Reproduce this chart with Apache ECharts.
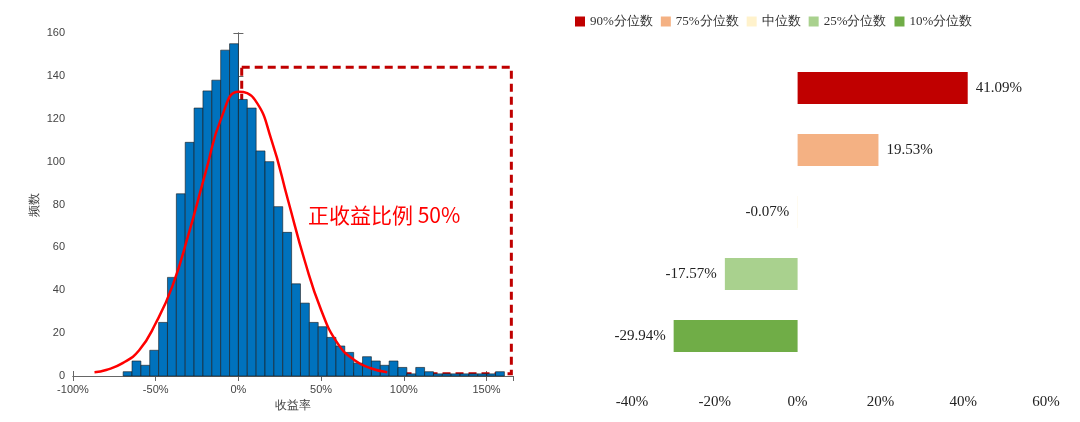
<!DOCTYPE html><html><head><meta charset="utf-8"><script src="https://cdn.jsdelivr.net/npm/echarts@6/dist/echarts.min.js"></script></head><body style="margin:0"><div id="c" style="width:1080px;height:422px"></div><script>
const binWidth = 5.36;
const negCounts = [2,7,5,12,25,46,85,109,125,133,138,152,155]; // bins ending at 0
const posCounts = [129,125,105,100,79,67,43,34,25,23,18,14,11,6,9,7,5,7,4,1,4,2,1,1,1,1,1,1,1,2];
const curveX = [-87,-80,-70,-60,-50,-40,-30,-20,-10,0,10,20,30,40,50,60,70,80,90];
const curveY = [1.7,2.8,6,12,24.6,41.7,66.5,94.5,121,132.6,128.8,110,82,54,30.8,15.2,7.5,3.6,1.7];
const xTicks = [-100,-50,0,50,100,150];
const quantNames = ['90%分位数','75%分位数','中位数','25%分位数','10%分位数'];
const quantValues = [41.09,19.53,-0.07,-17.57,-29.94];
const quantColors = ['#C00000','#F4B183','#FFF2CC','#A9D18E','#70AD47'];

const bins = [];
negCounts.forEach((v,i)=>bins.push([-(negCounts.length-i)*binWidth, -(negCounts.length-i-1)*binWidth, v]));
posCounts.forEach((v,i)=>bins.push([i*binWidth,(i+1)*binWidth,v]));

const chart = echarts.init(document.getElementById('c'));
const ax = {color:'#444',fontSize:11,fontFamily:'Liberation Sans'};
const serif = '"Liberation Serif","DejaVu Serif",serif';
chart.setOption({
  animation:false,
  grid:[{left:73,right:567,top:33,bottom:46},{left:632,right:34,top:57,bottom:55}],
  legend:{top:10,left:570,itemWidth:10,itemHeight:10,itemGap:8,icon:'rect',textStyle:{fontSize:13,fontFamily:serif,color:'#333'},data:quantNames},
  xAxis:[
    {gridIndex:0,type:'value',min:-100,max:166,interval:50,axisLine:{lineStyle:{color:'#666'}},axisTick:{inside:true,lineStyle:{color:'#666'}},splitLine:{show:false},
     axisLabel:Object.assign({formatter:v=>xTicks.includes(v)?v+'%':'',showMaxLabel:false},ax),name:'收益率',nameLocation:'middle',nameGap:22,nameTextStyle:{fontSize:12,color:'#444'}},
    {gridIndex:0,type:'value',position:'top',min:-100,max:166,interval:50,axisLine:{lineStyle:{color:'#666'}},axisTick:{inside:true,lineStyle:{color:'#666'}},axisLabel:{show:false},splitLine:{show:false}},
    {gridIndex:1,type:'value',min:-40,max:60,interval:20,axisLine:{show:false},axisTick:{show:false},splitLine:{show:false},
     axisLabel:{formatter:'{value}%',margin:28,fontSize:15,fontFamily:serif,color:'#222'}}
  ],
  yAxis:[
    {gridIndex:0,type:'value',min:0,max:160,interval:20,axisLine:{lineStyle:{color:'#666'}},axisTick:{inside:true,lineStyle:{color:'#666'}},splitLine:{show:false},axisLabel:ax,
     name:'频数',nameLocation:'middle',nameGap:32,nameTextStyle:{fontSize:12,color:'#444'}},
    {gridIndex:0,type:'value',position:'right',min:0,max:160,interval:20,axisLine:{lineStyle:{color:'#666'}},axisTick:{inside:true,lineStyle:{color:'#666'}},axisLabel:{show:false},splitLine:{show:false}},
    {gridIndex:1,type:'category',inverse:true,data:quantNames,axisLine:{show:false},axisTick:{show:false},axisLabel:{show:false}}
  ],
  series:[
    {type:'custom',xAxisIndex:0,yAxisIndex:0,data:bins,renderItem:(p,api)=>{
      const a=api.coord([api.value(0),api.value(2)]),b=api.coord([api.value(1),0]);
      return {type:'rect',shape:{x:a[0],y:a[1],width:b[0]-a[0],height:b[1]-a[1]},style:{fill:'#0072BD',stroke:'#1a1a1a',lineWidth:0.6}};
    },encode:{x:[0,1],y:2}},
    {type:'line',xAxisIndex:0,yAxisIndex:0,data:curveX.map((x,i)=>[x,curveY[i]]),smooth:true,symbol:'none',lineStyle:{color:'#FF0000',width:2.5},
     markArea:{silent:true,itemStyle:{color:'rgba(0,0,0,0)',borderColor:'#C00000',borderWidth:3,borderType:[8,5]},data:[[{coord:[2,144]},{coord:[165,1]}]]}},
    ...quantNames.map((n,k)=>({type:'bar',name:n,xAxisIndex:2,yAxisIndex:2,stack:'q',barWidth:32,itemStyle:{color:quantColors[k]},
      data:quantNames.map((_,i)=>i===k?quantValues[i]:'-'),
      label:{show:true,position:quantValues[k]>=0?'right':'left',distance:8,formatter:p=>p.value.toFixed(2)+'%',fontSize:15,fontFamily:serif,color:'#222'}}))
  ],
  graphic:[{type:'text',left:308,top:205,style:{text:'正收益比例 50%',fill:'#FF0000',fontSize:21,fontFamily:'"Noto Sans CJK SC"'}}]
});
</script></body></html>
